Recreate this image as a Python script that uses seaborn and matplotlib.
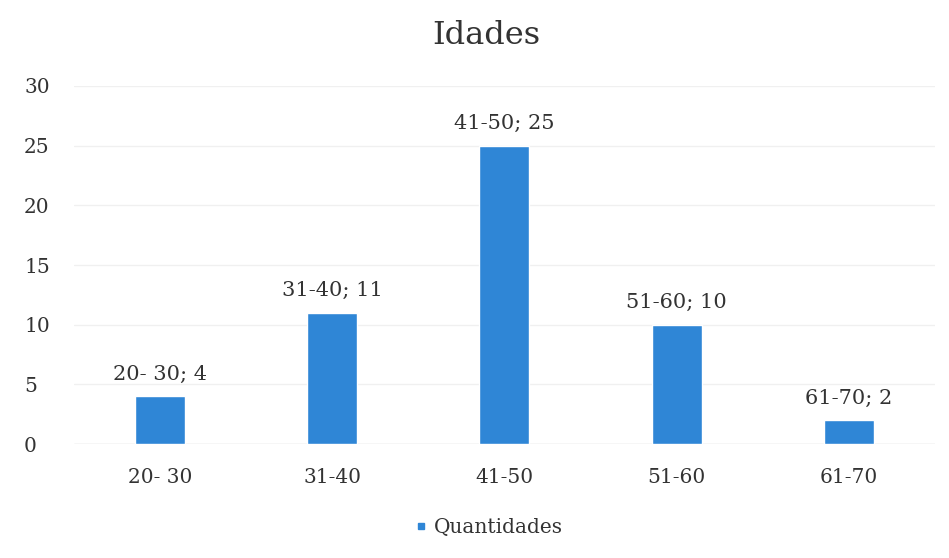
import matplotlib
matplotlib.use("Agg")
import matplotlib.pyplot as plt
import seaborn as sns
import pandas as pd
from matplotlib.lines import Line2D

categories = ["20- 30", "31-40", "41-50", "51-60", "61-70"]
values = [4, 11, 25, 10, 2]
series_name = "Quantidades"
title = "Idades"

sns.set_theme(style="white")
plt.rcParams['font.family'] = ['DejaVu Serif']

df = pd.DataFrame({"cat": categories, "val": values})

fig = plt.figure(figsize=(9.49, 5.58), dpi=100)
ax = fig.add_axes([0.078, 0.204, 0.907, 0.642])
color = "#2f86d6"
sns.barplot(data=df, x="cat", y="val", color=color, width=0.29, ax=ax,
            saturation=1, zorder=3)
ax.set_xlim(-0.5, len(categories) - 0.5)
ax.set_ylim(0, 30)
ax.set_yticks(range(0, 31, 5))
ax.yaxis.grid(True, color="#f0f0f0", linewidth=1, zorder=0)
for s in ax.spines.values():
    s.set_visible(False)
ax.axhline(0, color="#e0e0e0", linewidth=1, zorder=2)
ax.set_xlabel("")
ax.set_ylabel("")
ax.tick_params(axis="both", length=0, labelsize=14.5, colors="#333333")
ax.tick_params(axis="y", pad=36)
ax.tick_params(axis="x", pad=17)
for lbl in ax.get_yticklabels():
    lbl.set_horizontalalignment("left")

for i, (c, v) in enumerate(zip(categories, values)):
    ax.annotate(f"{c}; {v}", (i, v), xytext=(0, 9), textcoords="offset points",
                ha="center", va="bottom", fontsize=15, color="#333333")

fig.suptitle(title, x=0.512, y=0.965, fontsize=23, color="#333333")
handle = Line2D([], [], marker="s", linestyle="none", color=color, markersize=5)
fig.legend([handle], [series_name], loc="center", bbox_to_anchor=(0.515, 0.055),
           frameon=False, fontsize=14.5, handletextpad=0.35, handlelength=0.6,
           labelcolor="#333333")
fig.savefig("out.png", dpi=100, facecolor="white")
